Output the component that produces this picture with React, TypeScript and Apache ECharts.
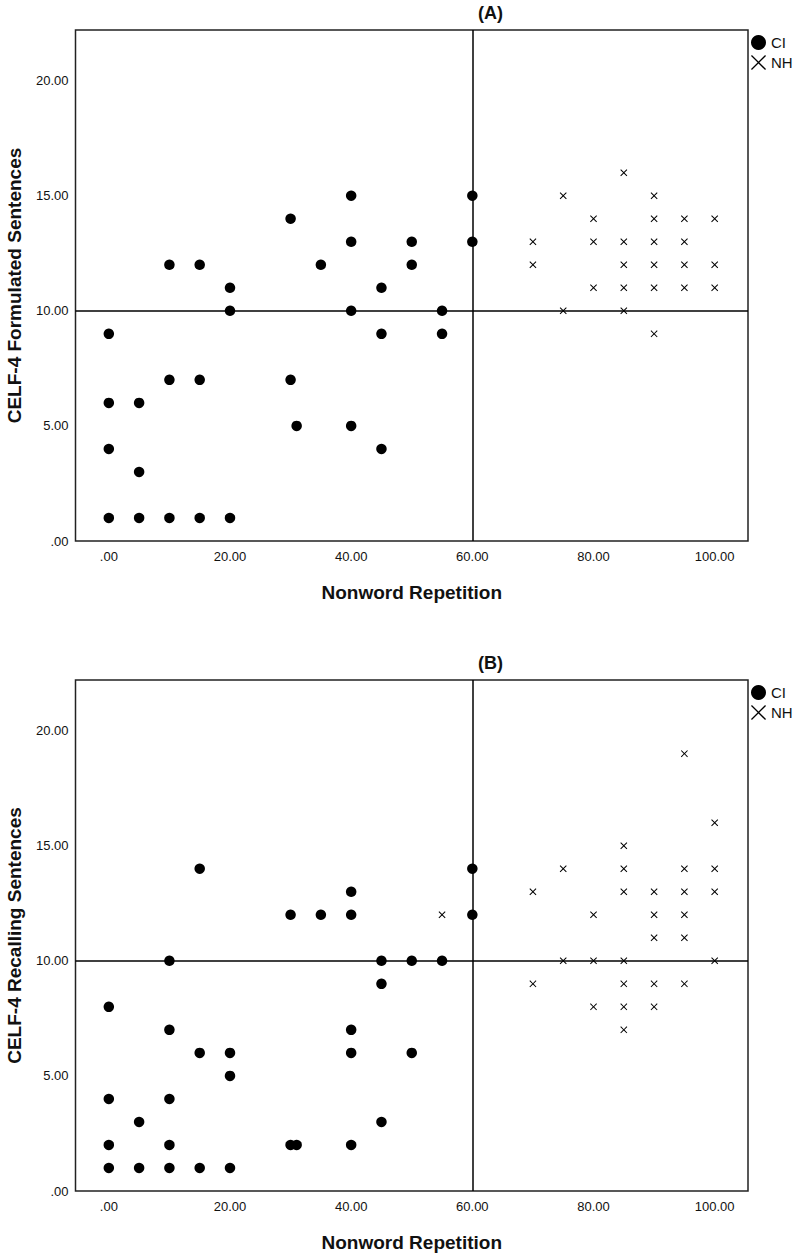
import React, { useEffect, useRef } from "react";
import * as echarts from "echarts";

// Panel A: Nonword Repetition vs CELF-4 Formulated Sentences
const ciA: number[][] = [
  [40, 15], [60, 15], [30, 14], [40, 13], [50, 13], [60, 13],
  [10, 12], [15, 12], [35, 12], [50, 12], [20, 11], [45, 11],
  [20, 10], [40, 10], [55, 10], [0, 9], [45, 9], [55, 9],
  [10, 7], [15, 7], [30, 7], [0, 6], [5, 6], [31, 5], [40, 5],
  [0, 4], [45, 4], [5, 3], [0, 1], [5, 1], [10, 1], [15, 1], [20, 1],
];
const nhA: number[][] = [
  [85, 16], [75, 15], [90, 15], [80, 14], [90, 14], [95, 14], [100, 14],
  [70, 13], [80, 13], [85, 13], [90, 13], [95, 13],
  [70, 12], [85, 12], [90, 12], [95, 12], [100, 12],
  [80, 11], [85, 11], [90, 11], [95, 11], [100, 11],
  [75, 10], [85, 10], [90, 9],
];

// Panel B: Nonword Repetition vs CELF-4 Recalling Sentences
const ciB: number[][] = [
  [15, 14], [60, 14], [40, 13], [30, 12], [35, 12], [40, 12], [60, 12],
  [10, 10], [45, 10], [50, 10], [55, 10], [45, 9], [0, 8],
  [10, 7], [40, 7], [15, 6], [20, 6], [40, 6], [50, 6], [20, 5],
  [0, 4], [10, 4], [5, 3], [45, 3],
  [0, 2], [10, 2], [30, 2], [31, 2], [40, 2],
  [0, 1], [5, 1], [10, 1], [15, 1], [20, 1],
];
const nhB: number[][] = [
  [95, 19], [100, 16], [85, 15], [75, 14], [85, 14], [95, 14], [100, 14],
  [70, 13], [85, 13], [90, 13], [95, 13], [100, 13],
  [55, 12], [80, 12], [90, 12], [95, 12], [90, 11], [95, 11],
  [75, 10], [80, 10], [85, 10], [100, 10],
  [70, 9], [85, 9], [90, 9], [95, 9], [80, 8], [85, 8], [90, 8], [85, 7],
];

const xTicks = [0, 20, 40, 60, 80, 100];
const yTicks = [0, 5, 10, 15, 20];
const titles = ["(A)", "(B)"];
const yNames = ["CELF-4 Formulated Sentences", "CELF-4 Recalling Sentences"];
const xName = "Nonword Repetition";
const refX = 60;
const refY = 10;

const FONT = "'Liberation Sans', Arial, Helvetica, sans-serif";
const CROSS =
  "path://M0,1 L1,0 L5,4 L9,0 L10,1 L6,5 L10,9 L9,10 L5,6 L1,10 L0,9 L4,5 Z";
const CROSS_THIN =
  "path://M0,0.6 L0.6,0 L5,4.4 L9.4,0 L10,0.6 L5.6,5 L10,9.4 L9.4,10 L5,5.6 L0.6,10 L0,9.4 L4.4,5 Z";

const fmt = (v: number) => (v === 0 ? ".00" : v.toFixed(2));

export default function App() {
  const ref = useRef<HTMLDivElement>(null);
  useEffect(() => {
    document.body.style.margin = "0";
    const chart = echarts.init(ref.current!, null, { renderer: "svg" });
    const tops = [30, 680];
    const gridH = 511;
    const grids = tops.map((t) => ({
      left: 75.5,
      right: 44,
      top: t,
      height: gridH,
      show: true,
      containLabel: false,
      outerBoundsMode: "none",
      borderColor: "#222",
      borderWidth: 1.5,
      backgroundColor: "#fff",
    }));
    const xAxes = [0, 1].map((i) => ({
      type: "value",
      gridIndex: i,
      min: -5.5,
      max: 105.5,
      name: xName,
      nameLocation: "middle",
      nameGap: 42,
      nameTextStyle: { fontFamily: FONT, fontSize: 19, fontWeight: "bold", color: "#111" },
      axisLine: { show: false },
      axisTick: { show: false },
      splitLine: { show: false },
      axisLabel: {
        customValues: xTicks,
        formatter: fmt,
        margin: 9,
        fontFamily: FONT,
        fontSize: 13,
        color: "#111",
      },
    }));
    const yAxes = [0, 1].map((i) => ({
      type: "value",
      gridIndex: i,
      min: 0,
      max: 22.2,
      name: yNames[i],
      nameLocation: "middle",
      nameGap: 52,
      nameTextStyle: { fontFamily: FONT, fontSize: 19, fontWeight: "bold", color: "#111" },
      axisLine: { show: false },
      axisTick: { show: false },
      splitLine: { show: false },
      axisLabel: {
        customValues: yTicks,
        formatter: fmt,
        margin: 7,
        fontFamily: FONT,
        fontSize: 13,
        color: "#111",
      },
    }));
    const refLines = {
      silent: true,
      symbol: "none",
      label: { show: false },
      lineStyle: { color: "#000", width: 1.5, type: "solid", opacity: 1 },
      data: [{ xAxis: refX }, { yAxis: refY }],
    };
    const mk = (i: number, ci: number[][], nh: number[][]) => [
      {
        name: "CI",
        type: "scatter",
        xAxisIndex: i,
        yAxisIndex: i,
        data: ci,
        symbol: "circle",
        symbolSize: 10.5,
        itemStyle: { color: "#000", opacity: 1 },
        markLine: refLines,
        z: 3,
      },
      {
        name: "NH",
        type: "scatter",
        xAxisIndex: i,
        yAxisIndex: i,
        data: nh,
        symbol: CROSS,
        symbolSize: 7,
        itemStyle: { color: "#000", opacity: 1 },
        z: 3,
      },
    ];
    const legends = tops.map((t) => ({
      orient: "vertical",
      left: 751,
      top: t + 5,
      padding: 0,
      itemGap: 5,
      itemWidth: 15,
      itemHeight: 15,
      selectedMode: false,
      textStyle: { fontFamily: FONT, fontSize: 15, color: "#111" },
      data: [
        { name: "CI", icon: "circle", itemStyle: { opacity: 1 } },
        { name: "NH", icon: CROSS_THIN, itemStyle: { opacity: 1 } },
      ],
    }));
    chart.setOption({
      animation: false,
      backgroundColor: "#fff",
      title: tops.map((t, i) => ({
        text: titles[i],
        left: 478,
        top: t - 26,
        padding: 0,
        textStyle: { fontFamily: FONT, fontSize: 18, fontWeight: "bold", color: "#111" },
      })),
      legend: legends,
      grid: grids,
      xAxis: xAxes,
      yAxis: yAxes,
      series: [...mk(0, ciA, nhA), ...mk(1, ciB, nhB)],
    });
    return () => chart.dispose();
  }, []);
  return <div ref={ref} style={{ width: 792, height: 1253 }} />;
}
